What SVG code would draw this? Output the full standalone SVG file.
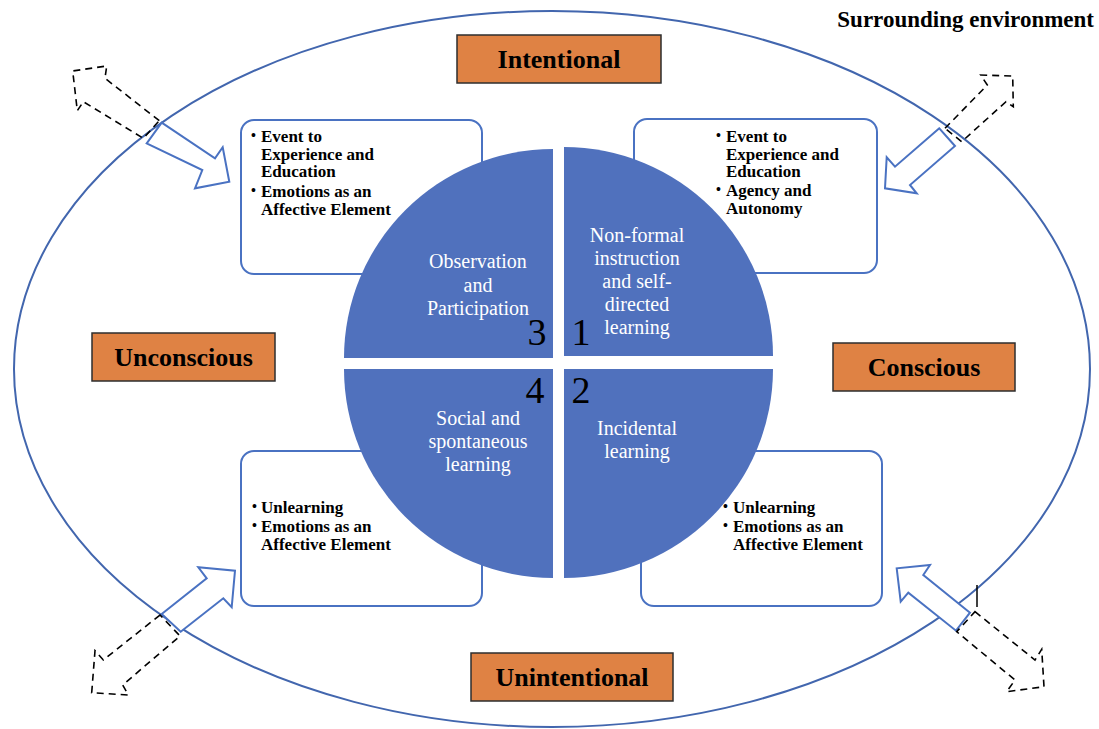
<svg xmlns="http://www.w3.org/2000/svg" width="1099" height="729" viewBox="0 0 1099 729">
<style>
.env{fill:none;stroke:#4266AE;stroke-width:2}
.lab{fill:#DF8244;stroke:#2E2E2E;stroke-width:1.5}
.labt{font-family:"Liberation Serif",serif;font-weight:bold;font-size:26px;fill:#000;text-anchor:middle}
.box{fill:#fff;stroke:#4A72C2;stroke-width:2}
.bt{font-family:"Liberation Serif",serif;font-weight:bold;font-size:17px;fill:#000}
.bul{font-family:"Liberation Serif",serif;font-weight:bold;font-size:14px;fill:#000}
.q{fill:#5071BD}
.qt{font-family:"Liberation Serif",serif;font-size:20px;fill:#fff;text-anchor:middle}
.num{font-family:"Liberation Serif",serif;font-size:38px;fill:#000;text-anchor:middle}
.inarr{fill:#fff;stroke:#4A72C2;stroke-width:2;stroke-linejoin:miter}
.outarr{fill:none;stroke:#000;stroke-width:1.6;stroke-dasharray:7 5}
</style>

<g id="environment">
<ellipse class="env" cx="552" cy="369" rx="538" ry="358"/>
<text x="1094" y="27" font-family="Liberation Serif, serif" font-weight="bold" font-size="23" text-anchor="end">Surrounding environment</text>
</g>

<g id="box-tl">
<rect class="box" x="241" y="120" width="241" height="154" rx="13"/>
<text class="bul" x="251" y="140">•</text>
<text class="bt" x="261" y="142">Event to</text>
<text class="bt" x="261" y="160">Experience and</text>
<text class="bt" x="261" y="177">Education</text>
<text class="bul" x="251" y="195">•</text>
<text class="bt" x="261" y="197">Emotions as an</text>
<text class="bt" x="261" y="214.5">Affective Element</text>
</g>

<g id="box-tr">
<rect class="box" x="634" y="119" width="243" height="154" rx="13"/>
<text class="bul" x="716" y="140">•</text>
<text class="bt" x="726" y="142">Event to</text>
<text class="bt" x="726" y="160">Experience and</text>
<text class="bt" x="726" y="177">Education</text>
<text class="bul" x="716" y="194">•</text>
<text class="bt" x="726" y="196">Agency and</text>
<text class="bt" x="726" y="213.5">Autonomy</text>
</g>

<g id="box-bl">
<rect class="box" x="241" y="451" width="241" height="155" rx="13"/>
<text class="bul" x="252" y="511">•</text>
<text class="bt" x="261" y="513">Unlearning</text>
<text class="bul" x="252" y="530">•</text>
<text class="bt" x="261" y="532">Emotions as an</text>
<text class="bt" x="261" y="550">Affective Element</text>
</g>

<g id="box-br">
<rect class="box" x="641" y="451" width="241" height="155" rx="13"/>
<text class="bul" x="723" y="511">•</text>
<text class="bt" x="733" y="513">Unlearning</text>
<text class="bul" x="723" y="530">•</text>
<text class="bt" x="733" y="532">Emotions as an</text>
<text class="bt" x="733" y="550">Affective Element</text>
</g>

<g id="quadrant-3">
<path class="q" d="M553,358 L344,358 A209,209 0 0 1 553,149 Z"/>
<text class="qt" x="478" y="268">Observation</text>
<text class="qt" x="478" y="291.5">and</text>
<text class="qt" x="478" y="314.5">Participation</text>
<text class="num" x="537" y="345">3</text>
</g>

<g id="quadrant-1">
<path class="q" d="M564,356 L564,147 A209,209 0 0 1 773,356 Z"/>
<text class="qt" x="637" y="241.5">Non-formal</text>
<text class="qt" x="637" y="264.5">instruction</text>
<text class="qt" x="637" y="287.5">and self-</text>
<text class="qt" x="637" y="310.5">directed</text>
<text class="qt" x="637" y="333.5">learning</text>
<text class="num" x="581" y="345">1</text>
</g>

<g id="quadrant-4">
<path class="q" d="M553,369 L553,578 A209,209 0 0 1 344,369 Z"/>
<text class="qt" x="478" y="425">Social and</text>
<text class="qt" x="478" y="448">spontaneous</text>
<text class="qt" x="478" y="471">learning</text>
<text class="num" x="535" y="403">4</text>
</g>

<g id="quadrant-2">
<path class="q" d="M564,369 L773,369 A209,209 0 0 1 564,578 Z"/>
<text class="qt" x="637" y="435">Incidental</text>
<text class="qt" x="637" y="458">learning</text>
<text class="num" x="581" y="403">2</text>
</g>

<g id="label-intentional">
<rect class="lab" x="457" y="35" width="204" height="48"/>
<text class="labt" x="559" y="68">Intentional</text>
</g>
<g id="label-unconscious">
<rect class="lab" x="92" y="333" width="183" height="48"/>
<text class="labt" x="183.5" y="366">Unconscious</text>
</g>
<g id="label-conscious">
<rect class="lab" x="833" y="343" width="182" height="48"/>
<text class="labt" x="924" y="376">Conscious</text>
</g>
<g id="label-unintentional">
<rect class="lab" x="471" y="653" width="202" height="48"/>
<text class="labt" x="572" y="686">Unintentional</text>
</g>

<g id="connectors">
<polygon class="inarr" points="161.7,122.7 215,158.3 222.7,147.3 229.3,181.7 195,188.3 202.3,170 146.7,143.3"/>
<polygon class="outarr" points="159.3,120.7 105,78.3 106.7,66 72.7,71 77.3,110.7 83.3,101.7 143.3,138.3"/>
<polygon class="inarr" points="939.3,128.3 895,166.7 886.7,157.3 885,188.3 916.7,193.3 910,185 955,146"/>
<polygon class="outarr" points="945,128.3 987.3,85 980.7,75 1012.7,76 1013.3,106.7 1006,101.7 961.7,141.7"/>
<polygon class="inarr" points="161.7,614 206.7,578.3 198.3,567.3 235,570.7 231.7,607.3 223.3,598.3 180.7,631.7"/>
<polygon class="outarr" points="160,615 103.3,660 95,650.7 91.7,692.7 128.3,695 122.7,685 180,636"/>
<polygon class="inarr" points="970,612.7 923.3,575 930,565 896.7,568.3 900.7,601.7 908.3,592.7 956,630.7"/>
<polygon class="outarr" points="975,611.7 1035,660 1041.7,649.3 1044,686.7 1006.7,691.7 1015,680 956.7,631.7"/>
<line x1="977" y1="585" x2="977" y2="607" stroke="#000" stroke-width="1.5"/>
</g>
</svg>
